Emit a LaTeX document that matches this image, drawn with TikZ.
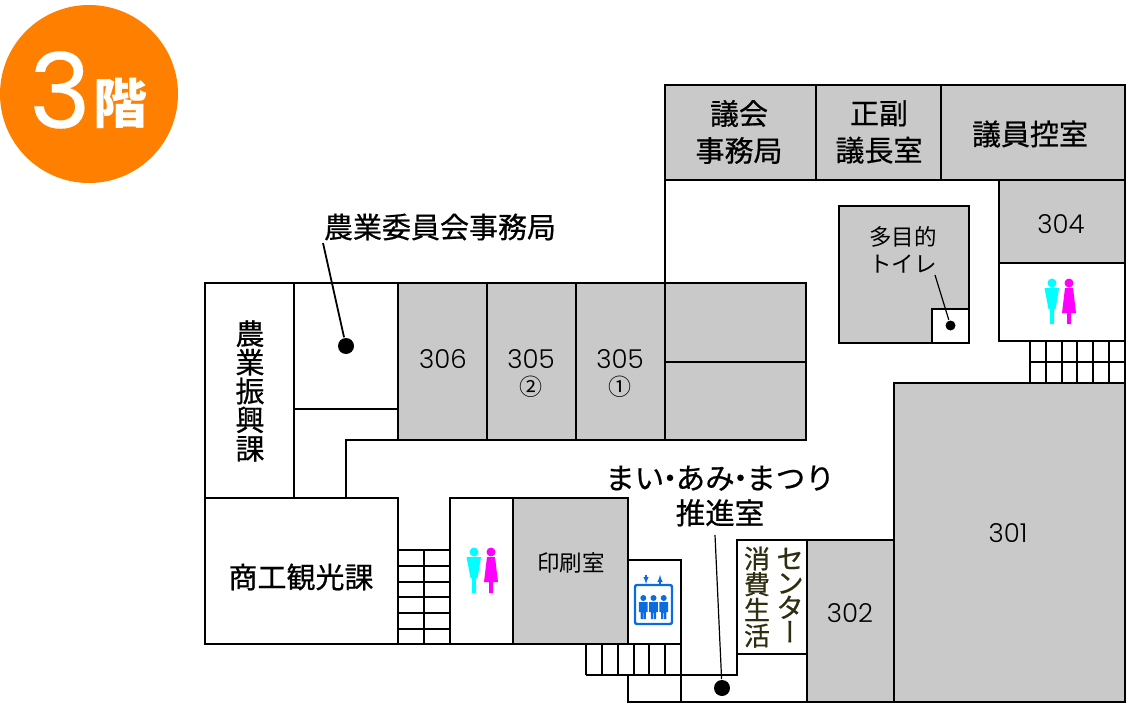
\documentclass[tikz,border=0pt]{standalone}
\usepackage{fontspec}
\setmainfont{Noto Sans CJK JP}
\newfontfamily\jpfont[FakeBold=0.6]{Noto Sans CJK JP}
\newfontfamily\numfont[UprightFont=* Light]{Poppins}
\newfontfamily\badgefont[FakeBold=0.3]{Poppins}
\newfontfamily\vertfont[FakeBold=0.6,RawFeature=+vert]{Noto Sans CJK JP}
\usepackage{tikz}
\definecolor{roomgray}{HTML}{C9C9C9}
\definecolor{badge}{HTML}{FF8000}
\definecolor{evblue}{HTML}{0A6CE0}
\definecolor{olivetext}{HTML}{2E2E10}
\definecolor{mancyan}{HTML}{00FFFF}
\definecolor{ladypink}{HTML}{FF00FF}
\tikzset{every picture/.style = {x=1pt, y=-1pt, line width=1.8pt}}
\tikzset{room/.style = {draw, fill=roomgray}}
\tikzset{plain/.style = {draw, fill=white}}
\tikzset{spot/.style = {fill, shape=circle, inner sep=0, minimum size=16pt}}
\tikzset{spotsm/.style = {fill, shape=circle, inner sep=0, minimum size=10pt}}
\tikzset{big/.style = {font=\jpfont\fontsize{29}{30}\selectfont, inner sep=0, align=center}}
\tikzset{mid/.style = {font=\fontsize{22.5}{27}\selectfont, inner sep=0, align=center}}
\tikzset{num/.style = {font=\numfont\fontsize{26}{27}\selectfont, inner sep=0, align=center}}
\tikzset{wcpair/.pic = {
  \fill[mancyan] (-8.5,-20) circle (4.5);
  \fill[mancyan] (-16,-15) -- (-1.5,-15) -- (-5,6) -- (-6.5,6) -- (-6.5,21) -- (-10.5,21) -- (-10.5,6) -- (-12,6) -- cycle;
  \fill[ladypink] (8.5,-20) circle (4.5);
  \fill[ladypink] (4.5,-15) -- (12.5,-15) -- (15.5,10) -- (10.5,10) -- (10.5,21) -- (6.5,21) -- (6.5,10) -- (1.5,10) -- cycle;
}}
\tikzset{rider/.pic = {
  \fill[evblue] (0,-11) circle (3);
  \fill[evblue] (-4.4,-7) -- (4.4,-7) -- (4.4,3) -- (2.6,3) -- (2.6,10) -- (0.3,10) -- (0.3,4) -- (-0.3,4) -- (-0.3,10) -- (-2.6,10) -- (-2.6,3) -- (-4.4,3) -- cycle;
}}
\begin{document}
\begin{tikzpicture}
  \useasboundingbox (0,0) rectangle (1126,703);
  % badge
  \fill[badge] (89,94) circle (89);
  \node[white, inner sep=0, font=\badgefont\fontsize{104}{104}\selectfont] (numthree) at (60,90) {3};
  \node[white, inner sep=0, font=\bfseries\fontsize{54}{54}\selectfont] (kai) at (120,103) {階};
  % top row
  \draw[room] (665,85) rectangle (816,180);
  \draw[room] (816,85) rectangle (941,180);
  \draw[room] (941,85) rectangle (1125,180);
  \node[big, font=\jpfont\fontsize{29}{37}\selectfont] (gikai) at (739,132) {議会\\事務局};
  \node[big, font=\jpfont\fontsize{29}{37}\selectfont] (seifuku) at (879,132) {正副\\議長室};
  \node[big] (giin) at (1030,134) {議員控室};
  \draw (665,180) -- (665,283);
  % right wing
  \draw[room] (999,180) rectangle (1125,263);
  \node[num] (r304) at (1061,224) {304};
  \draw (999,263) rectangle (1125,341);
  \pic at (1060.5,303) {wcpair};
  \foreach \x in {1030,1046,1062,1077,1093,1109,1125}
    \draw (\x,341) -- (\x,383);
  \draw (1030,362) -- (1125,362);
  % accessible toilet
  \draw[room] (839,206) rectangle (969,343);
  \draw[plain] (932,309) rectangle (969,343);
  \node[mid] (tamoku) at (903,250) {多目的\\トイレ};
  \coordinate (leadC) at (935,275);
  \node[spotsm] (dotC) at (950.5,325.5) {};
  \draw[line width=1.2pt] (leadC) -- (dotC);
  % large rooms
  \draw[room] (894,383) rectangle (1125,702);
  \node[num] (r301) at (1008,533) {301};
  \draw[room] (807,540) rectangle (894,702);
  \node[num] (r302) at (850,613) {302};
  % west wing
  \draw[plain] (205,283) rectangle (294,498);
  \draw[plain] (294,283) rectangle (398,409);
  \draw (294,409) -- (294,498);
  \draw (398,409) -- (398,440) -- (346,440) -- (346,498);
  \draw[room] (398,283) rectangle (487,440);
  \draw[room] (487,283) rectangle (576,440);
  \draw[room] (576,283) rectangle (665,440);
  \draw[room] (665,283) rectangle (806,362);
  \draw[room] (665,362) rectangle (806,440);
  \node[num] (r306) at (443,359) {306};
  \node[num] (r3052) at (531,373) {305\\{\normalfont\fontsize{23}{27}\selectfont ②}};
  \node[num] (r3051) at (620,373) {305\\{\normalfont\fontsize{23}{27}\selectfont ①}};
  \node[big, font=\jpfont\fontsize{29}{28.7}\selectfont] (shinko) at (250,391) {農\\業\\振\\興\\課};
  \node[big] (nogyo) at (440,227) {農業委員会事務局};
  \coordinate (leadA) at (323,243);
  \node[spot] (dotA) at (346,346) {};
  \draw (leadA) -- (dotA);
  % south block
  \draw[plain] (205,498) rectangle (398,644);
  \node[big] (shoko) at (301,577) {商工観光課};
  \foreach \y in {550,566,582,597,613,629,644}
    \draw (398,\y) -- (450,\y);
  \draw (424,550) -- (424,644);
  \draw (450,498) rectangle (513,644);
  \pic at (482.5,572) {wcpair};
  \draw[room] (513,498) rectangle (628,644);
  \node[mid] (insatsu) at (571,563) {印刷室};
  \draw (628,560) rectangle (681,644);
  % elevator
  \draw[evblue, rounded corners=2pt, line width=2.4pt] (635,585) rectangle (672,624);
  \pic at (643.3,609) {rider};
  \pic at (653.5,609) {rider};
  \pic at (663.7,609) {rider};
  \draw[evblue, -latex, line width=1.4pt] (646,575) -- (646,584);
  \draw[evblue, -latex, line width=1.4pt] (660,584) -- (660,575);
  % stairs and corridor
  \foreach \x in {586,602,618,634,649,665,681}
    \draw (\x,644) -- (\x,675);
  \draw (586,675) -- (681,675);
  \draw (628,675) -- (628,702) -- (807,702) -- (807,654);
  \draw[line width=1.2pt] (681,675) -- (681,702);
  \draw[line width=1.2pt] (681,675) -- (737,675) -- (737,654);
  \draw[plain] (737,540) rectangle (807,654);
  \node[big, olivetext, font=\jpfont\fontsize{26}{25.7}\selectfont] (shohi) at (757,597) {消\\費\\生\\活};
  \node[big, olivetext, font=\jpfont\fontsize{27}{24.5}\selectfont] (center) at (790,595) {セ\\ン\\タ\\{\vertfont ー}};
  \node[big, font=\jpfont\fontsize{29.5}{35}\selectfont] (maiami) at (720,496) {まい\kern-9pt・\kern-9ptあみ\kern-9pt・\kern-9ptまつり\\推進室};
  \coordinate (leadB) at (715,535);
  \node[spot] (dotB) at (722,688) {};
  \draw[line width=1.2pt] (leadB) -- (dotB);
\end{tikzpicture}
\end{document}
